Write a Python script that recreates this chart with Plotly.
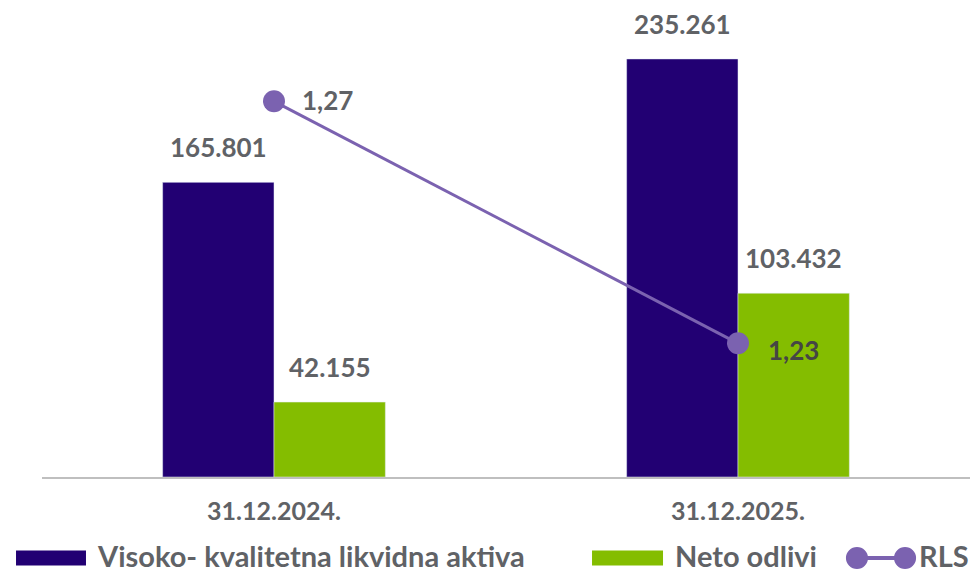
import plotly.graph_objects as go

categories = ["31.12.2024.", "31.12.2025."]
hqla = [165.801, 235.261]
outflows = [42.155, 103.432]
rls = [1.27, 1.23]

hqla_labels = ["165.801", "235.261"]
outflow_labels = ["42.155", "103.432"]
rls_labels = ["1,27", "1,23"]
legend_names = ["Visoko- kvalitetna likvidna aktiva", "Neto odlivi", "RLS"]

DARK = "#220073"
GREEN = "#84bd00"
LINE = "#7b62b0"
GREY = "#606266"
FONT = "Lato"

fig = go.Figure()

fig.add_trace(go.Bar(x=categories, y=hqla, name=legend_names[0],
                     marker_color=DARK, offsetgroup="a"))
fig.add_trace(go.Bar(x=categories, y=outflows, name=legend_names[1],
                     marker_color=GREEN, offsetgroup="b"))
fig.add_trace(go.Scatter(x=categories, y=rls, name=legend_names[2], yaxis="y2",
                         mode="lines+markers",
                         line=dict(color=LINE, width=3),
                         marker=dict(color=LINE, size=22)))

label_font = dict(size=26, color=GREY, family=FONT, weight="bold")

# value labels above bars
for i, c in enumerate(categories):
    fig.add_annotation(x=c, y=hqla[i], text=hqla_labels[i], xshift=-55.5,
                       yanchor="bottom", yshift=17, showarrow=False, font=label_font)
    fig.add_annotation(x=c, y=outflows[i], text=outflow_labels[i], xshift=55.5,
                       yanchor="bottom", yshift=17, showarrow=False, font=label_font)

# RLS labels
fig.add_annotation(x=categories[0], y=rls[0], yref="y2", text=rls_labels[0],
                   xanchor="left", xshift=26, yshift=1, showarrow=False, font=label_font)
fig.add_annotation(x=categories[1], y=rls[1], yref="y2", text=rls_labels[1],
                   xanchor="left", xshift=28, yshift=-7, showarrow=False,
                   font=dict(size=26, color="#454545", family=FONT, weight="bold"))

# hand-drawn legend along the bottom (paper coords)
leg_y = -0.1734
leg_font = dict(size=29, color=GREY, family=FONT, weight="bold")
rect_h = 0.0161
for x0, x1, col in [(-0.028, 0.0474, DARK), (0.5927, 0.6692, GREEN)]:
    fig.add_shape(type="rect", xref="paper", yref="paper", x0=x0, x1=x1,
                  y0=leg_y - rect_h, y1=leg_y + rect_h, fillcolor=col, line_width=0)
fig.add_shape(type="line", xref="paper", yref="paper", x0=0.8782, x1=0.93,
              y0=leg_y, y1=leg_y, line=dict(color=LINE, width=4))
for xc in (0.8782, 0.93):
    fig.add_shape(type="circle", xref="paper", yref="paper",
                  x0=xc - 0.0119, x1=xc + 0.0119, y0=leg_y - 0.0236, y1=leg_y + 0.0236,
                  fillcolor=LINE, line_width=0)
for tx, name in zip([0.0571, 0.68, 0.9429], legend_names):
    fig.add_annotation(xref="paper", yref="paper", x=tx, y=leg_y + 0.006, text=name,
                       xanchor="left", yanchor="middle", showarrow=False, font=leg_font)

fig.update_layout(
    width=979, height=573,
    margin=dict(l=42, r=9, t=10, b=96, autoexpand=False),
    paper_bgcolor="white", plot_bgcolor="white",
    barmode="group", bargap=0.52, bargroupgap=0,
    font=dict(family=FONT, color=GREY),
    showlegend=False,
    xaxis=dict(showline=True, linecolor="#bfbfbf", linewidth=2, ticks="",
               ticklabelstandoff=11,
               tickfont=dict(size=25, color=GREY, family=FONT, weight="bold"),
               showgrid=False, zeroline=False),
    yaxis=dict(range=[0, 262.8], visible=False, showgrid=False, zeroline=False),
    yaxis2=dict(range=[1.2079, 1.2851], overlaying="y", side="right",
                visible=False, showgrid=False, zeroline=False),
)

# drop the default page margin so the chart fills the window
fig.write_html("out.html", config={"displayModeBar": False},
               post_script="document.body.style.margin='0';")
